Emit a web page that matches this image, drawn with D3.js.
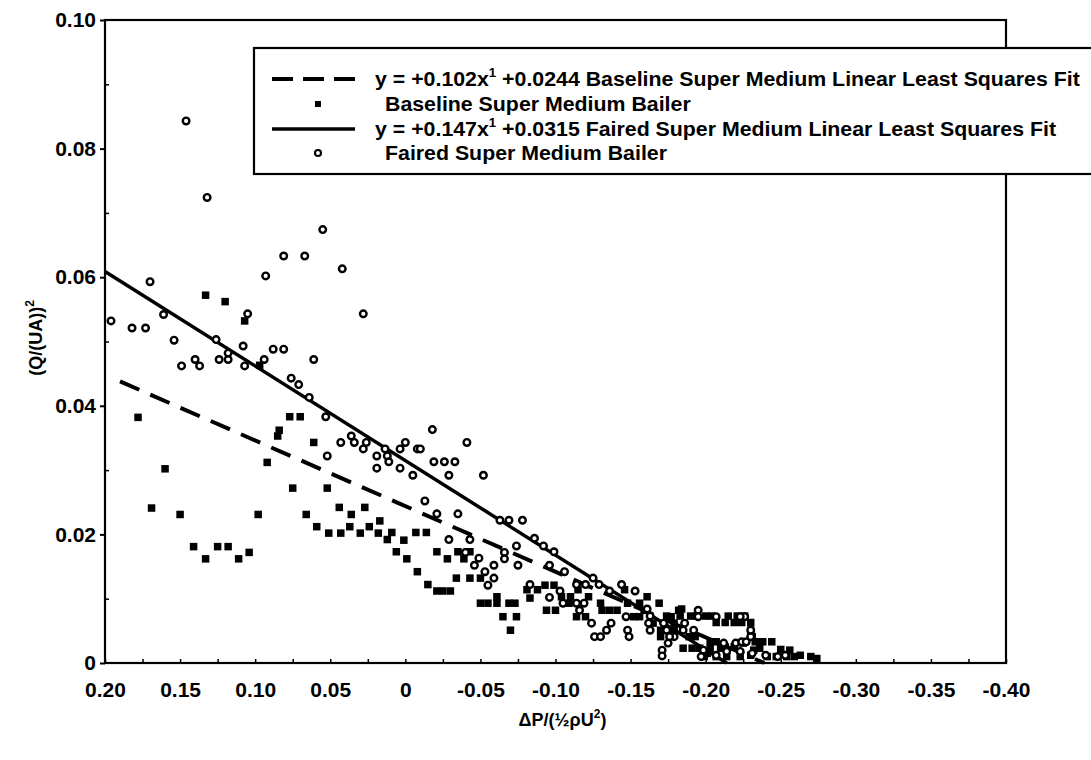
<!DOCTYPE html>
<html>
<head>
<meta charset="utf-8">
<script src="https://cdn.jsdelivr.net/npm/d3@7"></script>
<style>
  body { margin: 0; background: #fff; }
  text { font-family: "Liberation Sans", Arial, sans-serif; font-weight: bold; fill: #000; }
</style>
</head>
<body>
<div id="chart"></div>
<script>
// ---- data ----
// Baseline Super Medium Bailer (filled squares)
var baselineX = [0.133,0.120,0.107,0.097,0.178,0.077,0.070,0.084,0.085,0.061,0.092,0.160,0.075,0.052,0.169,0.150,0.098,0.066,0.044,0.036,
  0.027,0.017,0.059,0.051,0.043,0.037,0.030,0.024,0.018,0.012,0.141,0.125,0.118,0.133,0.111,0.104,0.009,0.001,-0.007,-0.014,
  0.006,-0.001,-0.021,-0.028,-0.035,-0.039,-0.043,-0.008,-0.015,-0.021,-0.025,-0.030,-0.034,-0.043,-0.050,-0.050,-0.055,-0.061,-0.061,-0.069,
  -0.073,-0.065,-0.074,-0.070,-0.081,-0.088,-0.083,-0.093,-0.099,-0.094,-0.100,-0.104,-0.110,-0.109,-0.115,-0.122,-0.114,-0.120,-0.130,-0.131,
  -0.136,-0.141,-0.146,-0.148,-0.152,-0.156,-0.161,-0.169,-0.165,-0.170,-0.177,-0.182,-0.156,-0.159,-0.184,-0.174,-0.183,-0.190,-0.194,-0.200,
  -0.204,-0.215,-0.221,-0.226,-0.207,-0.213,-0.219,-0.224,-0.230,-0.230,-0.231,-0.170,-0.179,-0.179,-0.189,-0.193,-0.203,-0.207,-0.233,-0.238,
  -0.244,-0.213,-0.219,-0.225,-0.185,-0.191,-0.196,-0.203,-0.210,-0.232,-0.236,-0.250,-0.256,-0.263,-0.270,-0.274,-0.207,-0.214,-0.223,-0.241,
  -0.247,-0.254,-0.259,-0.230,-0.199,-0.201];
var baselineY = [0.0572,0.0562,0.0532,0.0463,0.0382,0.0383,0.0383,0.0362,0.0353,0.0343,0.0312,0.0302,0.0272,0.0272,0.0241,0.0231,0.0231,0.0231,0.0242,0.0231,
  0.0242,0.0221,0.0212,0.0202,0.0202,0.0212,0.0202,0.0212,0.0202,0.0192,0.0181,0.0181,0.0181,0.0162,0.0162,0.0172,0.0203,0.0191,0.0203,0.0203,
  0.0173,0.0162,0.0173,0.0162,0.0173,0.0162,0.0173,0.0142,0.0122,0.0112,0.0112,0.0112,0.0132,0.0132,0.0132,0.0093,0.0093,0.0103,0.0093,0.0093,
  0.0093,0.0072,0.0072,0.0051,0.0114,0.0114,0.0101,0.0121,0.0121,0.0082,0.0082,0.0103,0.0103,0.0093,0.0114,0.0103,0.0072,0.0072,0.0093,0.0082,
  0.0082,0.0082,0.0114,0.0093,0.0072,0.0072,0.0103,0.0093,0.0062,0.0051,0.0072,0.0082,0.0093,0.0082,0.0084,0.0073,0.0073,0.0073,0.0073,0.0073,
  0.0073,0.0073,0.0073,0.0073,0.0063,0.0063,0.0063,0.0063,0.0063,0.0051,0.0041,0.0041,0.0062,0.0051,0.0041,0.0041,0.0033,0.0033,0.0033,0.0033,
  0.0033,0.0025,0.0025,0.0031,0.0023,0.0023,0.0023,0.0023,0.0023,0.0020,0.0023,0.0021,0.0020,0.0012,0.0010,0.0007,0.0010,0.0010,0.0010,0.0010,
  0.0010,0.0010,0.0010,0.0012,0.0010,0.0015];

// Faired Super Medium Bailer (open circles)
var fairedX = [0.146,0.132,0.055,0.081,0.067,0.093,0.042,0.170,0.105,0.028,0.196,0.182,0.173,0.161,0.154,0.126,0.108,0.088,0.081,0.149,
  0.140,0.137,0.124,0.118,0.118,0.107,0.094,0.061,0.076,0.071,0.064,0.053,0.043,0.036,0.034,0.026,0.028,0.052,0.019,0.019,
  0.0135,0.012,0.011,-0.018,-0.041,0.000,0.0035,-0.008,-0.010,0.0035,-0.005,-0.019,-0.026,-0.033,-0.029,-0.052,-0.013,-0.021,-0.035,-0.063,
  -0.069,-0.078,-0.086,-0.074,-0.092,-0.099,-0.029,-0.043,-0.040,-0.049,-0.046,-0.066,-0.066,-0.059,-0.075,-0.096,-0.106,-0.053,-0.059,-0.055,
  -0.083,-0.114,-0.120,-0.103,-0.096,-0.144,-0.153,-0.125,-0.129,-0.136,-0.105,-0.114,-0.119,-0.116,-0.124,-0.137,-0.126,-0.130,-0.134,-0.147,
  -0.148,-0.149,-0.162,-0.163,-0.174,-0.179,-0.175,-0.171,-0.171,-0.161,-0.163,-0.172,-0.176,-0.186,-0.185,-0.195,-0.195,-0.1985,-0.197,-0.192,
  -0.207,-0.212,-0.220,-0.224,-0.227,-0.230,-0.226,-0.223,-0.230,-0.214,-0.223,-0.207,-0.231,-0.240,-0.248,-0.253];
var fairedY = [0.0843,0.0724,0.0674,0.0633,0.0633,0.0602,0.0613,0.0593,0.0543,0.0543,0.0532,0.0521,0.0521,0.0542,0.0502,0.0503,0.0493,0.0488,0.0488,0.0462,
  0.0472,0.0462,0.0472,0.0482,0.0472,0.0462,0.0472,0.0472,0.0443,0.0433,0.0413,0.0383,0.0343,0.0353,0.0343,0.0343,0.0333,0.0322,0.0322,0.0303,
  0.0333,0.0322,0.0313,0.0363,0.0343,0.0343,0.0333,0.0333,0.0333,0.0303,0.0292,0.0313,0.0313,0.0313,0.0292,0.0292,0.0252,0.0232,0.0232,0.0222,
  0.0222,0.0222,0.0194,0.0182,0.0182,0.0173,0.0192,0.0192,0.0172,0.0163,0.0152,0.0172,0.0162,0.0152,0.0152,0.0152,0.0142,0.0142,0.0132,0.0121,
  0.0122,0.0122,0.0122,0.0112,0.0102,0.0122,0.0112,0.0132,0.0122,0.0112,0.0093,0.0093,0.0093,0.0082,0.0062,0.0062,0.0041,0.0041,0.0051,0.0072,
  0.0051,0.0041,0.0062,0.0051,0.0051,0.0041,0.0031,0.0020,0.0011,0.0084,0.0073,0.0062,0.0041,0.0062,0.0051,0.0082,0.0072,0.0020,0.0010,0.0051,
  0.0072,0.0031,0.0031,0.0033,0.0033,0.0041,0.0072,0.0072,0.0051,0.0018,0.0018,0.0012,0.0015,0.0012,0.0010,0.0012];

// least squares fits, as printed in the legend, and the span each line covers
var fitNames = ["Baseline Super Medium Linear Least Squares Fit", "Faired Super Medium Linear Least Squares Fit"];
var fitSlopes = ["0.102", "0.147"];
var fitIntercepts = ["0.0244", "0.0315"];
var baselineFitX = [0.19, -0.239];
var baselineFitY = [0.0438, 0.0];
var fairedFitX = [0.20, -0.214];
var fairedFitY = [0.0609, 0.0];
var pointNames = ["Baseline Super Medium Bailer", "Faired Super Medium Bailer"];

// ticks
var xMajor = [0.20, 0.15, 0.10, 0.05, 0, -0.05, -0.10, -0.15, -0.20, -0.25, -0.30, -0.35, -0.40];
var xTickLabels = ["0.20", "0.15", "0.10", "0.05", "0", "-0.05", "-0.10", "-0.15", "-0.20", "-0.25", "-0.30", "-0.35", "-0.40"];
var xMinor = [0.175, 0.125, 0.075, 0.025, -0.025, -0.075, -0.125, -0.175, -0.225, -0.275, -0.325, -0.375];
var yMajor = [0, 0.02, 0.04, 0.06, 0.08, 0.10];
var yTickLabels = ["0", "0.02", "0.04", "0.06", "0.08", "0.10"];
var yMinor = [0.01, 0.03, 0.05, 0.07, 0.09];

// ---- chart ----
var width = 1091, height = 760;
var plot = {left: 105, right: 1006, top: 20, bottom: 663};

var svg = d3.select('#chart')
  .append('svg')
    .attr('width', width)
    .attr('height', height);

var x = d3.scaleLinear().domain([0.20, -0.40]).range([plot.left, plot.right]);
var y = d3.scaleLinear().domain([0, 0.10]).range([plot.bottom, plot.top]);

// x ticks (pointing into the plot)
svg.append('g')
  .attr('transform', `translate(0,${plot.bottom})`)
  .call(d3.axisBottom(x).tickValues(xMinor.concat(xMajor)).tickSizeInner(-4).tickSizeOuter(0).tickFormat(''))
  .call(g => g.select('.domain').remove())
  .selectAll('line').attr('stroke-width', 1.5);

// x labels
svg.append('g')
  .attr('transform', `translate(0,${plot.bottom})`)
  .call(d3.axisBottom(x).tickValues(xMajor).tickSize(0).tickPadding(19)
    .tickFormat(d => xTickLabels[xMajor.indexOf(d)]))
  .call(g => g.select('.domain').remove())
  .selectAll('text')
    .attr('font-size', 21)
    .style('font-family', '"Liberation Sans", Arial, sans-serif')
    .style('font-weight', 'bold');

// y axis: majors out, minors in
svg.append('g')
  .attr('transform', `translate(${plot.left},0)`)
  .call(d3.axisLeft(y).tickValues(yMajor).tickSizeInner(5).tickSizeOuter(0).tickPadding(4)
    .tickFormat(d => yTickLabels[yMajor.indexOf(d)]))
  .call(g => g.select('.domain').remove())
  .call(g => g.selectAll('line').attr('stroke-width', 2))
  .selectAll('text')
    .attr('font-size', 21)
    .style('font-family', '"Liberation Sans", Arial, sans-serif')
    .style('font-weight', 'bold');

svg.append('g')
  .attr('transform', `translate(${plot.left},0)`)
  .call(d3.axisLeft(y).tickValues(yMinor).tickSizeInner(-4).tickSizeOuter(0).tickFormat(''))
  .call(g => g.select('.domain').remove())
  .selectAll('line').attr('stroke-width', 1.5);

// frame
svg.append('rect')
  .attr('x', plot.left)
  .attr('y', plot.top)
  .attr('width', plot.right - plot.left)
  .attr('height', plot.bottom - plot.top)
  .attr('fill', 'none')
  .attr('stroke', '#000')
  .attr('stroke-width', 2.2);

// fit lines
var line = d3.line().x(d => x(d[0])).y(d => y(d[1]));
svg.append('path')
  .datum(d3.zip(baselineFitX, baselineFitY))
  .attr('d', line)
  .attr('fill', 'none')
  .attr('stroke', '#000')
  .attr('stroke-width', 4)
  .attr('stroke-dasharray', '21,12');
svg.append('path')
  .datum(d3.zip(fairedFitX, fairedFitY))
  .attr('d', line)
  .attr('fill', 'none')
  .attr('stroke', '#000')
  .attr('stroke-width', 3.5);

// points
var sq = 7.5;
svg.append('g').selectAll('rect')
  .data(d3.zip(baselineX, baselineY))
  .join('rect')
    .attr('x', d => x(d[0]) - sq / 2)
    .attr('y', d => y(d[1]) - sq / 2)
    .attr('width', sq)
    .attr('height', sq)
    .attr('fill', '#000');

svg.append('g').selectAll('circle')
  .data(d3.zip(fairedX, fairedY))
  .join('circle')
    .attr('cx', d => x(d[0]))
    .attr('cy', d => y(d[1]))
    .attr('r', 3.3)
    .attr('fill', '#fff')
    .attr('stroke', '#000')
    .attr('stroke-width', 2.4);

// legend
var lg = {left: 254, top: 48, bottom: 174, rows: [79, 104, 129, 153],
          symX1: 272, symX2: 355, markX: 318, textX: 375, textX2: 385, textEnd: 1080};
svg.append('rect')
  .attr('x', lg.left)
  .attr('y', lg.top)
  .attr('width', 900)
  .attr('height', lg.bottom - lg.top)
  .attr('fill', '#fff')
  .attr('stroke', '#000')
  .attr('stroke-width', 2.2);

// legend symbols
svg.append('line')
  .attr('x1', lg.symX1).attr('x2', lg.symX2)
  .attr('y1', lg.rows[0]).attr('y2', lg.rows[0])
  .attr('stroke', '#000').attr('stroke-width', 4).attr('stroke-dasharray', '21,10');
svg.append('rect')
  .attr('x', lg.markX - 3).attr('y', lg.rows[1] - 3)
  .attr('width', 6).attr('height', 6).attr('fill', '#000');
svg.append('line')
  .attr('x1', lg.symX1).attr('x2', lg.symX2)
  .attr('y1', lg.rows[2]).attr('y2', lg.rows[2])
  .attr('stroke', '#000').attr('stroke-width', 3.5);
svg.append('circle')
  .attr('cx', lg.markX).attr('cy', lg.rows[3]).attr('r', 3)
  .attr('fill', '#fff').attr('stroke', '#000').attr('stroke-width', 2.2);

// legend texts
function fitLabel(sel, i) {
  sel.append('tspan').text('y = +' + fitSlopes[i] + 'x');
  sel.append('tspan').attr('dy', -9).attr('font-size', 13).text('1');
  sel.append('tspan').attr('dy', 9).text(' +' + fitIntercepts[i] + ' ' + fitNames[i]);
}
var legendTexts = [];
[0, 1].forEach(function(i) {
  var t = svg.append('text')
    .attr('font-size', 21)
    .attr('dy', '0.35em');
  fitLabel(t, i);
  legendTexts.push({node: t, x: lg.textX, y: lg.rows[i * 2]});
  var p = svg.append('text')
    .attr('font-size', 21)
    .attr('dy', '0.35em')
    .text(pointNames[i]);
  legendTexts.push({node: p, x: lg.textX2, y: lg.rows[i * 2 + 1]});
});
var natural = legendTexts[0].node.node().getComputedTextLength();
var stretch = (lg.textEnd - lg.textX) / natural;
legendTexts.forEach(function(d) {
  d.node.attr('transform', `translate(${d.x},${d.y}) scale(${stretch},1)`);
});

// axis titles
var xTitle = svg.append('text')
  .attr('x', (plot.left + plot.right) / 2 + 7)
  .attr('y', 726)
  .attr('text-anchor', 'middle')
  .attr('font-size', 18);
xTitle.append('tspan').text('\u0394P/(\u00BD\u03C1U');
xTitle.append('tspan').attr('dy', -8).attr('font-size', 12).text('2');
xTitle.append('tspan').attr('dy', 8).text(')');

var yTitle = svg.append('text')
  .attr('transform', 'translate(42,338) rotate(-90)')
  .attr('text-anchor', 'middle')
  .attr('font-size', 18);
yTitle.append('tspan').text('(Q/(UA))');
yTitle.append('tspan').attr('dy', -8).attr('font-size', 12).text('2');
</script>
</body>
</html>
